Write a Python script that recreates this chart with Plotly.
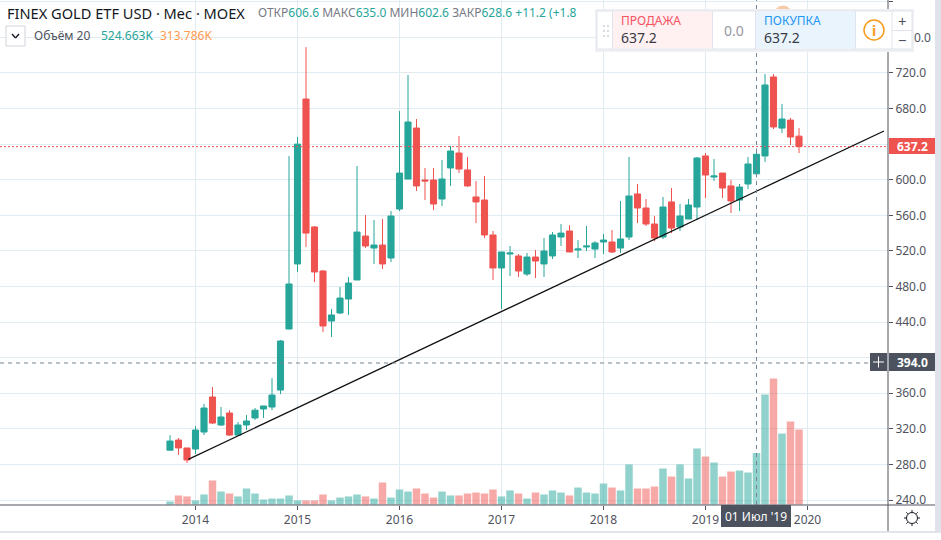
import plotly.graph_objects as go

# =============================================================================
# Data, monthly bars Oct 2013 - Dec 2019, volume in thousands
# =============================================================================
opens = [296, 307.4, 298.5, 297.3, 316.4, 355.8, 324.3, 337.8, 313, 324.3,
         332.2, 342.3, 344.5, 363.6, 432.2, 505.3, 690.7, 546.9, 497.4, 441.2,
         450.2, 465.9, 487.3, 536.7, 523.2, 526.6, 512, 567, 600.8, 658.1,
         599.7, 599.7, 578.3, 613.2, 630, 611, 580.6, 577.2, 537.9, 500.8,
         516.5, 514.3, 494, 513.1, 505.3, 514.3, 535.6, 542.4, 521, 524.4,
         522.1, 530, 530, 523.2, 535.6, 584, 568.2, 550.2, 535.6, 575,
         546.9, 555.8, 569.3, 626.7, 603, 607.5, 593, 577.2, 595.2, 606.6,
         626.7, 715.5, 658, 667, 649]
highs = [313, 309.7, 298.5, 323, 348, 367, 344.5, 341, 327.7, 335.5,
         343.4, 345.7, 377, 419.8, 626.7, 648, 749, 548, 498.5, 454.7,
         479.4, 490.7, 615.4, 560.3, 554.7, 555.8, 564.8, 677.2, 717.7, 668.2,
         613.2, 613.2, 622.2, 638, 649, 625.5, 598.6, 604.2, 542.4, 518.8,
         525.5, 516.5, 517.6, 521, 534.5, 541.2, 550.2, 549, 532.2, 548,
         531, 539, 543.5, 576.1, 625.5, 595.2, 578.3, 559.2, 580.6, 590.7,
         572.7, 578.3, 625.5, 630, 623.3, 607.5, 599.7, 595.2, 625.5, 635,
         718.8, 718.8, 685, 669.4, 658]
lows = [296, 290.6, 281.6, 291.7, 313, 325.4, 323.2, 312, 312, 318.7,
        330, 332.2, 341, 359, 432, 496.3, 524.4, 485, 428.8, 423.2,
        449, 448, 487.3, 523.2, 505.3, 499.6, 507.5, 564.8, 600.8, 587.3,
        577.2, 566, 570.5, 593, 607.5, 592, 551.3, 534.5, 487.3, 454.7,
        491.8, 490.7, 491.8, 489.5, 490.7, 510.9, 525.5, 518.8, 512, 519.9,
        512, 516.5, 517.6, 517.6, 532.2, 551.3, 548, 531, 533.4, 540,
        542.4, 555.8, 554.7, 579.4, 598.6, 579.4, 562.6, 564.8, 589.6, 602.6,
        620, 657, 652.5, 639, 630]
closes = [306.3, 298.5, 285, 318.7, 343.4, 326.5, 333.3, 313, 324.3, 328.8,
          341, 345.7, 358, 418.7, 482.8, 640, 540, 496.3, 435.6, 448,
          467, 483.9, 541.2, 525.5, 526.6, 505.3, 559.2, 607.5, 664.9, 593,
          598.6, 572.7, 600.8, 632.3, 612, 593, 575, 537.9, 500.8, 518.8,
          517.6, 497.4, 513.1, 508.6, 519.9, 537.9, 540, 518.8, 522.1, 525.5,
          528.9, 532.2, 518.8, 533.4, 581.7, 568.2, 550.2, 534.5, 569.3, 545.7,
          559.2, 571.6, 624.4, 605.3, 604.2, 590.7, 576.1, 591.8, 617.7, 628.6,
          706.5, 659.3, 668.2, 648, 637.2]
volumes = [31, 92, 82, 41, 102, 245, 132, 112, 82, 163,
           112, 51, 61, 61, 92, 41, 41, 41, 102, 41,
           71, 82, 102, 82, 61, 224, 71, 153, 132, 163,
           112, 71, 132, 92, 92, 112, 122, 112, 153, 82,
           143, 112, 61, 122, 102, 143, 122, 92, 173, 122,
           112, 214, 173, 143, 408, 163, 163, 183, 367, 285,
           408, 265, 571, 489, 428, 285, 336, 346, 326, 524.663,
           1121, 1284, 723, 846, 764]

months = list(range(len(opens)))
year_pos = [3, 15, 27, 39, 51, 63, 75]
year_labels = ['2014', '2015', '2016', '2017', '2018', '2019', '2020']
# 400, 640 and 760 sit under the crosshair tag, price tag and trade panel
price_ticks = [240, 280, 320, 360, 400, 440, 480, 520, 560, 600, 640, 680, 720, 760, 800]
price_labels = ['240.0', '280.0', '320.0', '360.0', '', '440.0', '480.0', '520.0', '560.0',
                '600.0', '', '680.0', '720.0', '', '800.0']
trend_x = [2.15, 84]
trend_y = [285.7, 654.8]
last_price = 637.2
cross_price = 394.0
cross_month = 69

UP = '#26a69a'
DOWN = '#ef5350'
TXT = '#50535e'
GRID = '#e1ecf2'
FONT = 'Noto Sans'
W, H = 941, 540
PLOT_R, PLOT_B = 888, 505

vol_colors = ['rgba(38,166,154,0.5)' if c >= o else 'rgba(239,83,80,0.5)'
              for o, c in zip(opens, closes)]


# helpers for things placed in screen pixels
def rect(x0, y0, x1, y1, fill, line=None):
    return dict(type='rect', xref='paper', yref='paper', layer='above',
                x0=x0 / W, x1=x1 / W, y0=1 - y0 / H, y1=1 - y1 / H,
                fillcolor=fill, line=dict(color=line or fill, width=1 if line else 0))


def seg(x0, y0, x1, y1, color, width=1):
    return dict(type='line', xref='paper', yref='paper', layer='above',
                x0=x0 / W, x1=x1 / W, y0=1 - y0 / H, y1=1 - y1 / H,
                line=dict(color=color, width=width))


def circle(cx, cy, r, fill, line=None, width=1):
    return dict(type='circle', xref='paper', yref='paper', layer='above',
                x0=(cx - r) / W, x1=(cx + r) / W, y0=1 - (cy - r) / H, y1=1 - (cy + r) / H,
                fillcolor=fill, line=dict(color=line or fill, width=width))


def label(x, y, text, size=12, color=TXT, anchor='left', bg=None):
    return dict(xref='paper', yref='paper', x=x / W, y=1 - y / H, text=text, showarrow=False,
                xanchor=anchor, yanchor='middle', font=dict(family=FONT, size=size, color=color),
                bgcolor=bg, borderpad=0)


def colored(text, color):
    return f'<span style="color:{color}">{text}</span>'


# =============================================================================
# Traces
# =============================================================================
fig = go.Figure()
fig.add_trace(go.Candlestick(
    x=months, open=opens, high=highs, low=lows, close=closes,
    increasing=dict(line=dict(color=UP, width=1), fillcolor=UP),
    decreasing=dict(line=dict(color=DOWN, width=1), fillcolor=DOWN),
    whiskerwidth=0, showlegend=False
))
fig.add_trace(go.Bar(x=months, y=volumes, yaxis='y2', width=0.88,
                     marker=dict(color=vol_colors, line_width=0), showlegend=False))
fig.add_trace(go.Scatter(x=trend_x, y=trend_y, mode='lines',
                         line=dict(color='#111111', width=1.3), showlegend=False))

# =============================================================================
# Overlays
# =============================================================================
shapes = [
    dict(type='line', xref='x', yref='y', x0=-20, x1=84.47, y0=last_price, y1=last_price,
         line=dict(color=DOWN, width=1, dash='2px,2px')),
    dict(type='line', xref='x', yref='y', x0=-20, x1=82.35, y0=cross_price, y1=cross_price,
         line=dict(color='#758696', width=1, dash='4px,4px')),
    dict(type='line', xref='x', yref='y', x0=cross_month, x1=cross_month, y0=234.4, y1=802,
         line=dict(color='#758696', width=1, dash='4px,4px')),
    # frame
    seg(0, PLOT_B, 935, PLOT_B, TXT),
    seg(PLOT_R, 0, PLOT_R, 531, TXT),
    rect(0, 531, 941, 533, '#e0e3eb'),
    rect(935, 0, 941, 533, '#e0e3eb'),
    # price tags
    rect(889, 138, 935, 154, DOWN),
    rect(889, 353, 935, 371, '#4c525e'),
    rect(870, 353, 887, 371, '#4c525e'),
    seg(873, 362, 884, 362, 'white'),
    seg(878.5, 356.5, 878.5, 367.5, 'white'),
    rect(721, 505, 791, 527, '#4c525e'),
    # settings icon
    circle(912, 518, 5.5, 'white', '#131722', 1),
    seg(912, 510, 912, 512, '#131722'),
    seg(912, 524, 912, 526, '#131722'),
    seg(904, 518, 906, 518, '#131722'),
    seg(918, 518, 920, 518, '#131722'),
    seg(906.3, 512.3, 907.8, 513.8, '#131722'),
    seg(916.2, 522.2, 917.7, 523.7, '#131722'),
    seg(906.3, 523.7, 907.8, 522.2, '#131722'),
    seg(916.2, 513.8, 917.7, 512.3, '#131722'),
    # legend collapse button
    rect(6, 26, 25, 46, 'white', '#d1d4dc'),
    seg(12, 34, 15.5, 38, '#131722', 1.3),
    seg(15.5, 38, 19, 34, '#131722', 1.3),
    # event marker peeking out behind the trade panel
    circle(783, 15, 9, '#f7c9a4'),
    # trade panel
    rect(595, 9, 914, 52, '#eef0f4'),
    rect(597, 11, 912, 49, 'white', '#dfe3ea'),
    rect(612.5, 11.5, 712.5, 48.5, '#fff0f2'),
    rect(755.5, 11.5, 855.5, 48.5, '#eaf4fd'),
    seg(612.5, 11, 612.5, 49, '#e0e3eb'),
    seg(712.5, 11, 712.5, 49, '#e0e3eb'),
    seg(755.5, 11, 755.5, 49, '#e0e3eb'),
    seg(855.5, 11, 855.5, 49, '#e0e3eb'),
    seg(892, 11, 892, 49, '#e0e3eb'),
    seg(892, 30.5, 912, 30.5, '#e0e3eb'),
    circle(874, 30, 10, 'white', '#f89a1c', 1.5),
]
for hx in (603, 607):
    for hy in (25, 30, 35):
        shapes.append(rect(hx, hy, hx + 2, hy + 2, '#d8dbe2'))

header = (colored('ОТКР', '#787b86') + colored('606.6', UP) + ' '
          + colored('МАКС', '#787b86') + colored('635.0', UP) + ' '
          + colored('МИН', '#787b86') + colored('602.6', UP) + ' '
          + colored('ЗАКР', '#787b86') + colored('628.6', UP) + ' '
          + colored('+11.2 (+1.8', UP))

annotations = [
    label(6, 13, 'FINEX GOLD ETF USD · Мес · MOEX', 14.6, '#131722'),
    label(257, 13, header, 12),
    label(33, 36, 'Объём 20', 12, '#50535e'),
    label(100, 36, '524.663K', 12, UP),
    label(159, 36, '313.786K', 12, '#ff9a4d'),
    label(912, 146, f'<b>{last_price:.1f}</b>', 12, 'white', 'center'),
    label(912, 362, f'<b>{cross_price:.1f}</b>', 12, 'white', 'center'),
    label(756, 516, "01 Июл '19", 12, 'white', 'center'),
    label(620, 21, 'ПРОДАЖА', 12, '#f7525f'),
    label(620, 37, '637.2', 14, '#363a45'),
    label(734, 30, '0.0', 14, '#9598a1', 'center'),
    label(763, 21, 'ПОКУПКА', 12, '#2196f3'),
    label(763, 37, '637.2', 14, '#363a45'),
    label(874, 30, '<b>i</b>', 14, '#f89a1c', 'center'),
    label(902, 21, '+', 15, '#50535e', 'center'),
    label(902, 40, '−', 15, '#50535e', 'center'),
    label(913, 37, '0.0', 12, TXT),
]

fig.update_layout(
    width=W, height=H,
    margin=dict(l=0, r=0, t=0, b=0),
    paper_bgcolor='white',
    plot_bgcolor='white',
    boxgap=0.1,
    boxgroupgap=0.2,
    showlegend=False,
    hovermode=False,
    shapes=shapes,
    annotations=annotations,
    font=dict(family=FONT, size=12, color=TXT),
    xaxis=dict(
        domain=[0, PLOT_R / W], range=[-20, 84.47], rangeslider=dict(visible=False),
        tickvals=year_pos, ticktext=year_labels, ticks='outside', ticklen=4, tickcolor=TXT,
        showgrid=True, gridcolor=GRID, gridwidth=1, zeroline=False, showline=False,
        automargin=False, tickfont=dict(family=FONT, size=12, color=TXT)
    ),
    yaxis=dict(
        domain=[1 - PLOT_B / H, 1], range=[234.4, 802], side='right',
        tickvals=price_ticks, ticktext=price_labels, ticks='outside', ticklen=4, tickcolor=TXT,
        showgrid=True, gridcolor=GRID, gridwidth=1, zeroline=False, showline=False,
        automargin=False, tickfont=dict(family=FONT, size=12, color=TXT)
    ),
    yaxis2=dict(overlaying='y', range=[-5, 5141], visible=False, automargin=False)
)

fig.write_html('out.html', config={'displayModeBar': False},
               post_script="document.body.style.margin='0';document.body.style.overflow='hidden';")
